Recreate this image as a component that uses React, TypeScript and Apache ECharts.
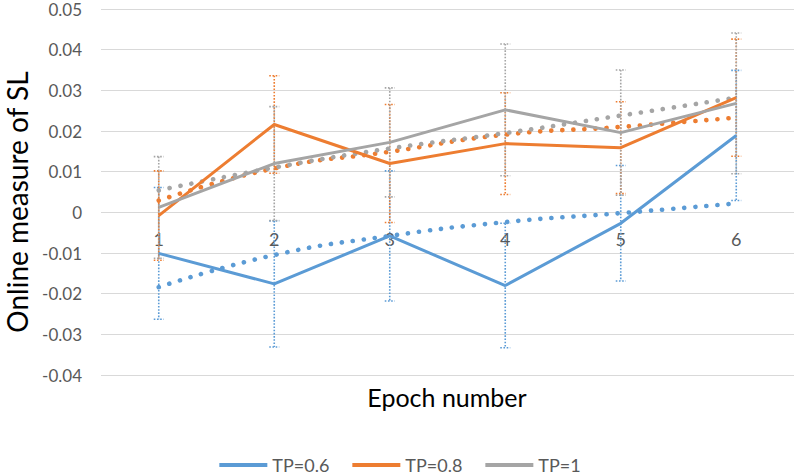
import React, { useEffect, useRef } from "react";
import * as echarts from "echarts";

const epochs = ["1", "2", "3", "4", "5", "6"];
const seriesNames = ["TP=0.6", "TP=0.8", "TP=1"];
const colors = ["#5B9BD5", "#ED7D31", "#A5A5A5"];

const tp06 = [-0.0101, -0.0176, -0.0058, -0.018, -0.0027, 0.0189];
const tp08 = [-0.0008, 0.0216, 0.012, 0.0169, 0.0159, 0.0282];
const tp10 = [0.0012, 0.012, 0.0172, 0.0252, 0.0196, 0.0268];

const tp06Trend = [-0.0184, -0.0105, -0.0058, -0.0024, -0.0002, 0.0022];
const tp08Trend = [0.0029, 0.0108, 0.0149, 0.0191, 0.021, 0.0233];
const tp10Trend = [0.0054, 0.011, 0.0157, 0.0195, 0.0238, 0.0282];

const tp06Err = [0.0162, 0.0155, 0.016, 0.0153, 0.0142, 0.016];
const tp08Err = [0.011, 0.012, 0.0145, 0.0125, 0.0113, 0.0144];
const tp10Err = [0.0125, 0.014, 0.0134, 0.0162, 0.0154, 0.0173];

const yTicks = { min: -0.04, max: 0.05, interval: 0.01 };

const FONT = "Lato";

export default function App() {
  const ref = useRef<HTMLDivElement>(null);
  useEffect(() => {
    if (!ref.current) return;
    const chart = echarts.init(ref.current, undefined, { renderer: "svg" });
    const values = [tp06, tp08, tp10];
    const trends = [tp06Trend, tp08Trend, tp10Trend];
    const errs = [tp06Err, tp08Err, tp10Err];

    const errSeries = values.map((vals, si) => ({
      type: "custom",
      name: seriesNames[si] + " err",
      z: 2,
      silent: true,
      data: vals.map((v, i) => [i, v, errs[si][i]]),
      encode: { x: 0, y: 1 },
      renderItem: (params: any, api: any) => {
        const x = api.value(0);
        const v = api.value(1);
        const e = api.value(2);
        const top = api.coord([x, v + e]);
        const bot = api.coord([x, v - e]);
        const style = {
          stroke: colors[si],
          lineWidth: 1.6,
          lineDash: [1.6, 1.6],
          fill: "none",
        };
        return {
          type: "group",
          children: [
            { type: "line", shape: { x1: top[0], y1: top[1], x2: bot[0], y2: bot[1] }, style },
            { type: "line", shape: { x1: top[0] - 5, y1: top[1], x2: top[0] + 5, y2: top[1] }, style },
            { type: "line", shape: { x1: bot[0] - 5, y1: bot[1], x2: bot[0] + 5, y2: bot[1] }, style },
          ],
        };
      },
    }));

    // category labels sitting just under the zero line (Excel axis crossing at 0)
    const xLabelSeries = {
      type: "custom",
      name: "xlabels",
      z: 1,
      silent: true,
      data: epochs.map((c, i) => [i, 0]),
      encode: { x: 0, y: 1 },
      renderItem: (params: any, api: any) => {
        const i = api.value(0);
        const p = api.coord([i, 0]);
        return {
          type: "text",
          x: p[0],
          y: p[1] + 27,
          style: {
            text: epochs[i],
            fontSize: 18,
            fontFamily: FONT,
            fill: "#595959",
            align: "center",
            verticalAlign: "middle",
          },
        };
      },
    };

    const trendSeries = trends.map((t, si) => ({
      type: "line",
      name: seriesNames[si] + " trend",
      data: t,
      smooth: true,
      symbol: "none",
      z: 3,
      lineStyle: { color: colors[si], width: 4.6, type: [0.1, 11], cap: "round" },
    }));

    const mainSeries = values.map((vals, si) => ({
      type: "line",
      name: seriesNames[si],
      data: vals,
      symbol: "none",
      z: 4,
      itemStyle: { color: colors[si] },
      lineStyle: { color: colors[si], width: 3 },
    }));

    chart.setOption({
      animation: false,
      textStyle: { fontFamily: FONT },
      grid: { left: 101, right: 6, top: 9, bottom: 100 },
      legend: {
        data: seriesNames,
        top: 451,
        left: "center",
        icon: "rect",
        itemWidth: 48,
        itemHeight: 4,
        itemGap: 23,
        textStyle: { fontFamily: FONT, fontSize: 18, color: "#595959" },
      },
      xAxis: {
        type: "category",
        data: epochs,
        boundaryGap: true,
        axisLine: { show: false },
        axisTick: { show: false },
        axisLabel: { show: false },
        splitLine: { show: false },
      },
      yAxis: {
        type: "value",
        min: yTicks.min,
        max: yTicks.max,
        interval: yTicks.interval,
        axisLine: { show: false },
        axisTick: { show: false },
        axisLabel: {
          margin: 19,
          fontSize: 17,
          lineHeight: 14,
          color: "#595959",
          fontFamily: FONT,
          formatter: (v: number) => {
            const s = v.toFixed(2);
            return s === "0.00" || s === "-0.00" ? "0" : s;
          },
        },
        splitLine: { lineStyle: { color: "#D9D9D9", width: 1 } },
      },
      graphic: [
        {
          type: "text",
          x: 447,
          y: 384,
          style: {
            text: "Epoch number",
            fontSize: 25,
            fill: "#000000",
            fontFamily: FONT,
            align: "center",
            verticalAlign: "top",
          },
        },
        {
          type: "text",
          x: 17,
          y: 202,
          rotation: Math.PI / 2,
          style: {
            text: "Online measure of SL",
            fontSize: 28,
            fill: "#000000",
            fontFamily: FONT,
            align: "center",
            verticalAlign: "middle",
          },
        },
      ],
      series: [...errSeries, xLabelSeries, ...trendSeries, ...mainSeries],
    });
    return () => chart.dispose();
  }, []);
  return (
    <div
      ref={ref}
      style={{ position: "absolute", left: 0, top: 0, width: 800, height: 475 }}
    />
  );
}
